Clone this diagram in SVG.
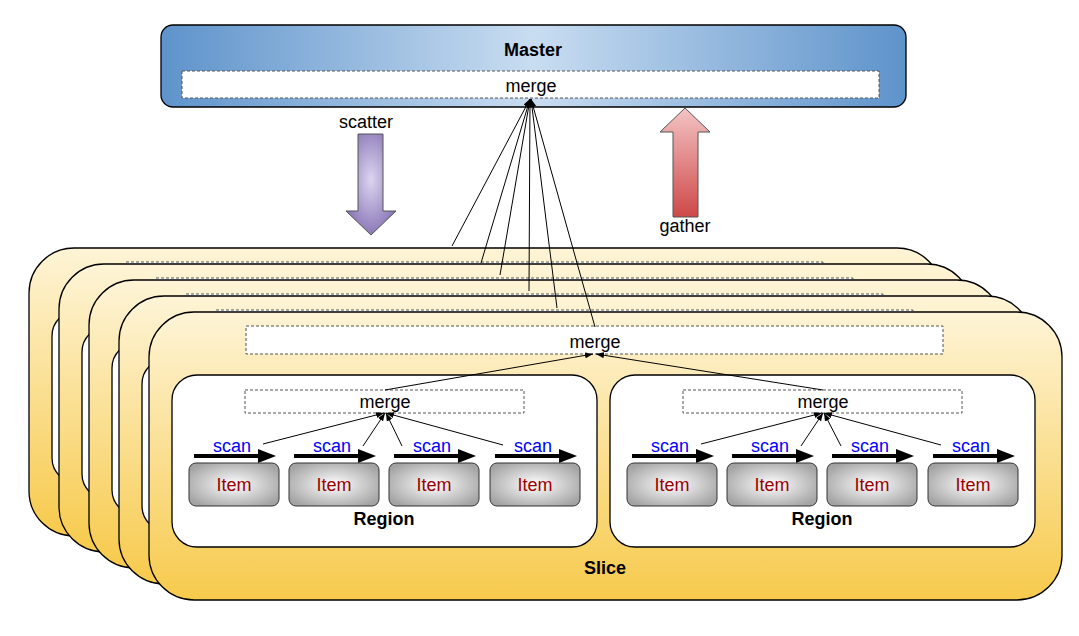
<svg xmlns="http://www.w3.org/2000/svg" xmlns:xlink="http://www.w3.org/1999/xlink" width="1079" height="636" viewBox="0 0 1079 636">
<style>
text{font-family:"Liberation Sans",Arial,sans-serif;font-size:18px;text-anchor:middle;fill:#000}
.b{font-weight:bold}
.scan{fill:#0000FF}
.item-t{fill:#990000}
.slice{fill:url(#gSlice);stroke:#000;stroke-width:1.3}
.dash{fill:#fff;stroke:#555;stroke-width:1;stroke-dasharray:3 2}
.region{fill:#fff;stroke:#000;stroke-width:1.3}
.item{fill:url(#gItem);stroke:#333;stroke-width:1}
.conn line{stroke:#000;stroke-width:1;fill:none;marker-end:url(#ah)}
</style>
<defs>
<linearGradient id="gMaster" x1="0" y1="0" x2="1" y2="0">
<stop offset="0" stop-color="#5E93CB"/><stop offset="0.5" stop-color="#C9DDF1"/><stop offset="1" stop-color="#5E93CB"/>
</linearGradient>
<linearGradient id="gSlice" x1="0" y1="0" x2="0" y2="1">
<stop offset="0" stop-color="#FEF4D6"/><stop offset="1" stop-color="#F7CA4C"/>
</linearGradient>
<radialGradient id="gItem" cx="0.5" cy="0.5" r="0.6">
<stop offset="0" stop-color="#FFFFFF"/><stop offset="1" stop-color="#A3A3A3"/>
</radialGradient>
<radialGradient id="gScatter" cx="0.5" cy="0.45" r="0.6">
<stop offset="0" stop-color="#DCD5EF"/><stop offset="1" stop-color="#8470B3"/>
</radialGradient>
<linearGradient id="gGather" x1="0" y1="0" x2="0" y2="1">
<stop offset="0" stop-color="#F4C4C4"/><stop offset="1" stop-color="#CE4848"/>
</linearGradient>
<marker id="ah" markerWidth="8" markerHeight="6" refX="8" refY="3" orient="auto" markerUnits="userSpaceOnUse">
<path d="M0,0 L8,3 L0,6 Z" fill="#000"/>
</marker>
<g id="scanArrow">
<line x1="0" y1="0" x2="66" y2="0" stroke="#000" stroke-width="4"/>
<path d="M64,-7 L82,0 L64,7 Z" fill="#000"/>
</g>
</defs>

<rect width="1079" height="636" fill="#fff"/>

<g id="master">
<rect x="161" y="25" width="745" height="82" rx="12" fill="url(#gMaster)" stroke="#000" stroke-width="1.3"/>
<text class="b" x="533" y="56">Master</text>
<rect class="dash" x="182" y="71" width="697" height="27"/>
<text x="531" y="92">merge</text>
</g>

<g id="scatter">
<path d="M358,134 H383 V211 H396 L371,235 L346,211 H358 Z" fill="url(#gScatter)" stroke="#555" stroke-width="1"/>
<text x="366" y="128">scatter</text>
</g>
<g id="gather">
<path d="M685,108 L710,132 H698 V217 H673 V132 H660 Z" fill="url(#gGather)" stroke="#555" stroke-width="1"/>
<text x="685" y="232">gather</text>
</g>

<g id="slice-back-1">
<rect class="slice" x="29" y="248" width="913" height="288" rx="45"/>
<rect class="dash" x="126" y="262" width="697" height="28"/>
<rect class="region" x="52" y="311" width="425" height="172" rx="25"/>
</g>
<g id="slice-back-2">
<rect class="slice" x="59" y="264" width="913" height="288" rx="45"/>
<rect class="dash" x="156" y="278" width="697" height="28"/>
<rect class="region" x="82" y="327" width="425" height="172" rx="25"/>
</g>
<g id="slice-back-3">
<rect class="slice" x="89" y="280" width="913" height="288" rx="45"/>
<rect class="dash" x="186" y="294" width="697" height="28"/>
<rect class="region" x="112" y="343" width="425" height="172" rx="25"/>
</g>
<g id="slice-back-4">
<rect class="slice" x="119" y="296" width="913" height="288" rx="45"/>
<rect class="dash" x="216" y="310" width="697" height="28"/>
<rect class="region" x="142" y="359" width="425" height="172" rx="25"/>
</g>

<g id="slice">
<rect class="slice" x="149" y="312" width="913" height="288" rx="45"/>
<rect class="dash" x="246" y="326" width="697" height="28"/>
<text x="595" y="348">merge</text>
<text class="b" x="605" y="574">Slice</text>
</g>

<g id="region-left">
<rect class="region" x="172" y="375" width="425" height="172" rx="25"/>
<rect class="dash" x="245" y="390" width="279" height="23"/>
<text x="385" y="408">merge</text>
<text class="b" x="384" y="525">Region</text>
</g>
<g id="items-left">
<g id="item-l1"><use xlink:href="#scanArrow" x="194" y="456"/><text class="scan" x="232" y="452">scan</text><rect class="item" x="189" y="463" width="90" height="43" rx="7"/><text class="item-t" x="234" y="491">Item</text></g>
<g id="item-l2"><use xlink:href="#scanArrow" x="294" y="456"/><text class="scan" x="332" y="452">scan</text><rect class="item" x="289" y="463" width="90" height="43" rx="7"/><text class="item-t" x="334" y="491">Item</text></g>
<g id="item-l3"><use xlink:href="#scanArrow" x="394" y="456"/><text class="scan" x="432" y="452">scan</text><rect class="item" x="389" y="463" width="90" height="43" rx="7"/><text class="item-t" x="434" y="491">Item</text></g>
<g id="item-l4"><use xlink:href="#scanArrow" x="495" y="456"/><text class="scan" x="533" y="452">scan</text><rect class="item" x="490" y="463" width="90" height="43" rx="7"/><text class="item-t" x="535" y="491">Item</text></g>
</g>

<g id="region-right">
<rect class="region" x="610" y="375" width="425" height="172" rx="25"/>
<rect class="dash" x="683" y="390" width="279" height="23"/>
<text x="823" y="408">merge</text>
<text class="b" x="822" y="525">Region</text>
</g>
<g id="items-right">
<g id="item-r1"><use xlink:href="#scanArrow" x="632" y="456"/><text class="scan" x="670" y="452">scan</text><rect class="item" x="627" y="463" width="90" height="43" rx="7"/><text class="item-t" x="672" y="491">Item</text></g>
<g id="item-r2"><use xlink:href="#scanArrow" x="732" y="456"/><text class="scan" x="770" y="452">scan</text><rect class="item" x="727" y="463" width="90" height="43" rx="7"/><text class="item-t" x="772" y="491">Item</text></g>
<g id="item-r3"><use xlink:href="#scanArrow" x="832" y="456"/><text class="scan" x="870" y="452">scan</text><rect class="item" x="827" y="463" width="90" height="43" rx="7"/><text class="item-t" x="872" y="491">Item</text></g>
<g id="item-r4"><use xlink:href="#scanArrow" x="933" y="456"/><text class="scan" x="971" y="452">scan</text><rect class="item" x="928" y="463" width="90" height="43" rx="7"/><text class="item-t" x="973" y="491">Item</text></g>
</g>

<g id="connectors" class="conn">
<line x1="452" y1="246" x2="530" y2="99"/>
<line x1="481" y1="263" x2="530" y2="99"/>
<line x1="500" y1="275" x2="530" y2="99"/>
<line x1="529" y1="291" x2="530" y2="99"/>
<line x1="557" y1="308" x2="531" y2="99"/>
<line x1="595" y1="327" x2="531" y2="99"/>
<line x1="385" y1="390" x2="593" y2="354"/>
<line x1="823" y1="390" x2="596" y2="354"/>
<line x1="263" y1="444" x2="384" y2="413"/>
<line x1="363" y1="446" x2="385" y2="413"/>
<line x1="402" y1="446" x2="386" y2="413"/>
<line x1="503" y1="445" x2="386" y2="413"/>
<line x1="701" y1="444" x2="822" y2="413"/>
<line x1="801" y1="446" x2="823" y2="413"/>
<line x1="841" y1="446" x2="824" y2="413"/>
<line x1="941" y1="445" x2="824" y2="413"/>
</g>
</svg>
